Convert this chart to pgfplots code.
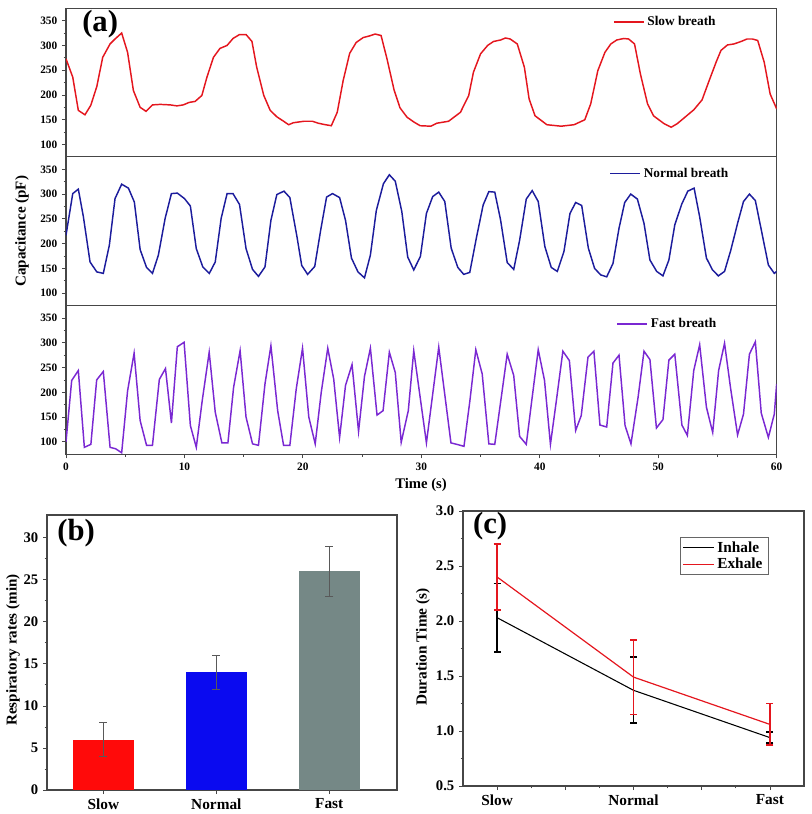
\documentclass[border=0pt]{standalone}
\usepackage{pgfplots}
\pgfplotsset{compat=1.18}
\usepackage{fontspec}
\setmainfont{Liberation Serif}
\definecolor{cslow}{RGB}{228,22,30}
\definecolor{cnorm}{RGB}{28,28,156}
\definecolor{cfast}{RGB}{122,40,210}
\definecolor{bslow}{RGB}{255,10,10}
\definecolor{bnorm}{RGB}{10,10,240}
\definecolor{bfast}{RGB}{117,136,134}
\definecolor{frame}{RGB}{70,70,70}

\pgfplotstableread{
x y
0 273
0.57 236
1.04 169
1.6 160
2.09 179
2.6 217
3.1 276
3.72 303
4.14 313
4.7 325
5.2 286
5.69 209
6.26 175
6.76 167
7.3 180
7.95 181
8.8 180
9.36 178
9.9 180
10.4 185
10.9 187
11.47 199
11.9 236
12.45 276
13.0 294
13.6 300
14.1 314
14.65 322
15.2 322
15.7 308
16.1 256
16.7 199
17.24 169
17.8 156
18.37 147
18.8 140
19.2 144
20.1 147
20.8 147
21.3 143
21.9 140
22.4 138
22.9 165
23.4 229
23.95 284
24.5 306
25.1 316
25.6 319
26.1 323
26.6 320
27.1 273
27.7 210
28.2 174
28.8 155
29.4 145
29.9 138
30.8 137
31.3 143
32.3 147
33.3 165
34.0 199
34.4 246
35.0 283
35.6 300
36.1 308
36.7 311
37.1 315
37.5 313
38.1 303
38.7 256
39.1 192
39.6 158
40.6 140
41.8 137
42.9 140
43.8 150
44.3 182
44.9 249
45.5 286
46.0 303
46.5 311
47.1 314
47.5 313
48.0 303
48.5 242
49.1 182
49.6 158
50.5 142
51.1 135
51.6 142
52.2 154
53.0 170
53.7 190
54.3 229
54.9 267
55.3 290
55.85 301
56.4 303
57.0 308
57.5 313
57.95 313
58.4 310
58.95 266
59.45 202
60 172
}\slowdata

\pgfplotstableread{
x y
0 217
0.57 301
1.04 310
1.47 254
2.03 163
2.6 143
3.15 140
3.66 197
4.14 291
4.7 320
5.27 312
5.77 284
6.26 188
6.8 152
7.3 140
7.8 177
8.37 251
8.9 301
9.4 302
10.0 291
10.5 276
11.0 190
11.55 153
12.1 140
12.6 163
13.1 251
13.6 301
14.1 301
14.65 279
15.2 190
15.75 148
16.25 134
16.8 153
17.3 247
17.8 299
18.4 306
18.9 293
19.5 214
19.9 156
20.4 138
21.0 154
21.5 227
22.0 294
22.5 301
23.1 293
23.6 247
24.1 171
24.65 143
25.2 131
25.7 177
26.2 267
26.8 321
27.3 339
27.8 326
28.35 265
28.85 173
29.36 147
29.92 174
30.43 261
30.96 295
31.47 304
31.98 285
32.52 191
33.08 152
33.58 138
34.09 142
34.66 213
35.22 278
35.7 305
36.2 304
36.69 248
37.25 162
37.8 148
38.3 207
38.86 290
39.36 307
39.87 285
40.43 194
40.97 152
41.48 144
42.04 184
42.55 261
43.03 283
43.54 277
44.1 191
44.63 150
45.14 137
45.65 133
46.18 160
46.69 231
47.17 283
47.68 300
48.24 290
48.8 241
49.3 167
49.87 144
50.4 135
50.9 167
51.4 238
51.99 280
52.5 306
53.03 312
53.5 254
54.07 171
54.58 147
55.08 135
55.6 144
56.13 187
56.7 241
57.2 285
57.7 300
58.2 287
58.7 228
59.3 157
59.8 140
60 144
}\normdata

\pgfplotstableread{
x y
0 100
0.48 224
1.04 244
1.55 89
2.1 95
2.59 225
3.15 242
3.72 89
4.2 86
4.7 78
5.2 203
5.75 279
6.26 143
6.8 93
7.3 93
7.88 226
8.4 248
8.9 138
9.4 292
9.97 301
10.5 133
11.0 89
11.5 183
12.09 281
12.6 160
13.16 98
13.67 98
14.15 210
14.7 284
15.2 150
15.75 96
16.25 93
16.8 217
17.3 294
17.87 163
18.37 93
18.9 93
19.44 207
19.97 289
20.5 150
21.04 96
21.55 200
22.1 289
22.6 227
23.1 109
23.6 214
24.15 256
24.7 121
25.2 232
25.7 289
26.26 154
26.77 163
27.3 281
27.8 240
28.3 99
28.9 163
29.36 284
30.43 98
31.47 291
32.5 98
33.0 95
33.6 91
34.1 183
34.6 286
35.14 237
35.7 96
36.2 95
36.75 190
37.25 277
37.8 234
38.3 111
38.86 95
39.36 190
39.87 286
40.4 224
40.9 95
41.4 183
41.95 283
42.5 264
43.03 123
43.5 153
44.07 271
44.57 283
45.08 134
45.65 130
46.18 259
46.69 275
47.2 133
47.7 96
48.3 190
48.8 283
49.3 266
49.85 128
50.4 145
50.9 265
51.4 277
52.0 134
52.46 113
53.0 244
53.5 296
54.07 170
54.6 119
55.1 244
55.6 299
56.1 210
56.7 114
57.2 156
57.7 277
58.2 302
58.7 158
59.3 109
59.8 156
60 217
}\fastdata

\pgfplotsset{
  common/.style={
    scale only axis, anchor=south west,
    tick align=outside, tick pos=left,
    axis line style={frame, line width=0.8pt},
    every tick/.style={frame, line width=0.6pt},
    major tick length=3pt, minor tick length=1.8pt,
    /pgf/number format/assume math mode=true,
  },
  topstyle/.style={
    common,
    width=533pt, height=111.5pt,
    xmin=0, xmax=60, ymin=75, ymax=375,
    ytick={100,150,...,350}, minor y tick num=1,
    ticklabel style={font=\bfseries\fontsize{8.5}{10}\selectfont},
    legend style={draw=none, fill=none, anchor=west, inner sep=0pt, outer sep=0pt,
      font=\bfseries\fontsize{10}{12}\selectfont},
    legend image code/.code={\draw[##1] (0pt,0pt) -- (22.5pt,0pt);},
  },
}

\begin{document}
\begin{tikzpicture}
\path (0,0) rectangle (609pt,610.5pt);

% (a) slow
\begin{axis}[topstyle, at={(49.5pt,492.8pt)}, xtick=\empty,
  legend style={at={(0.770,0.908)}}]
\addplot[cslow, line width=1.1pt] table[x=x,y=y] {\slowdata};
\addlegendentry{Slow breath}
\node[anchor=west, inner sep=0pt, font=\bfseries\fontsize{23}{26}\selectfont] at (rel axis cs:0.0225,0.89) {(a)};
\end{axis}

% normal
\begin{axis}[topstyle, at={(49.5pt,381.3pt)}, xtick=\empty,
  legend style={at={(0.765,0.888)}}]
\addplot[cnorm, line width=1.1pt] table[x=x,y=y] {\normdata};
\addlegendentry{Normal breath}
\end{axis}

% fast
\begin{axis}[topstyle, at={(49.5pt,269.8pt)},
  xtick={0,10,...,60}, minor x tick num=1,
  legend style={at={(0.775,0.875)}}]
\addplot[cfast, line width=1.1pt] table[x=x,y=y] {\fastdata};
\addlegendentry{Fast breath}
\end{axis}

\node[rotate=90, font=\bfseries\fontsize{11.3}{13}\selectfont] at (16.5pt,437pt) {Capacitance (pF)};
\node[font=\bfseries\fontsize{11}{13}\selectfont] at (315.75pt,247pt) {Time (s)};

% (b)
\begin{axis}[common, at={(35.25pt,18pt)}, width=262.5pt, height=206.25pt,
  xmin=0.5, xmax=3.6, ymin=0, ymax=32.7,
  xtick={1,2,3}, xticklabels={Slow,Normal,Fast},
  ytick={0,5,...,30}, minor y tick num=1,
  yticklabel style={font=\bfseries\fontsize{11}{13}\selectfont},
  xticklabel style={font=\bfseries\fontsize{11.5}{13}\selectfont},
  ]
\addplot[ybar, bar width=45.75pt, bar shift=0pt, fill=bslow, draw=none,
  error bars/.cd, y dir=both, y explicit,
  error bar style={black!65, line width=0.5pt},
  error mark options={rotate=90, black!65, mark size=3pt, line width=0.5pt}]
  coordinates {(1,6) +- (0,2)};
\addplot[ybar, bar width=45.75pt, bar shift=0pt, fill=bnorm, draw=none,
  error bars/.cd, y dir=both, y explicit,
  error bar style={black!65, line width=0.5pt},
  error mark options={rotate=90, black!65, mark size=3pt, line width=0.5pt}]
  coordinates {(2,14) +- (0,2)};
\addplot[ybar, bar width=45.75pt, bar shift=0pt, fill=bfast, draw=none,
  error bars/.cd, y dir=both, y explicit,
  error bar style={black!65, line width=0.5pt},
  error mark options={rotate=90, black!65, mark size=3pt, line width=0.5pt}]
  coordinates {(3,26) +- (0,3)};
\node[anchor=west, inner sep=0pt, font=\bfseries\fontsize{23}{26}\selectfont] at (rel axis cs:0.029,0.935) {(b)};
\end{axis}
\node[rotate=90, font=\bfseries\fontsize{11.3}{13}\selectfont] at (9.75pt,123pt) {Respiratory rates (min)};

% (c)
\begin{axis}[common, at={(347.25pt,21pt)}, width=255.75pt, height=206.25pt,
  xmin=0.75, xmax=3.25, ymin=0.5, ymax=3.0,
  xtick={1,1.5,2,2.5,3}, xticklabels={Slow,,Normal,,Fast}, minor x tick num=1,
  ytick={0.5,1,...,3}, minor y tick num=1,
  yticklabel style={font=\bfseries\fontsize{11}{13}\selectfont,
    /pgf/number format/.cd, fixed, fixed zerofill, precision=1},
  xticklabel style={font=\bfseries\fontsize{11.5}{13}\selectfont},
  legend style={at={(0.636,0.905)}, anchor=north west, draw=black!60, fill=white,
    font=\bfseries\fontsize{11.5}{13}\selectfont, inner xsep=2pt, inner ysep=1pt,
    row sep=-1pt},
  legend cell align=left,
  legend image code/.code={\draw[#1] (0pt,0pt) -- (23pt,0pt);},
  ]
\addplot[black, line width=0.8pt,
  error bars/.cd, y dir=both, y explicit,
  error bar style={black, line width=1.3pt},
  error mark options={rotate=90, black, mark size=2.6pt, line width=1.3pt}]
  coordinates {(1,2.03) +- (0,0.31) (2,1.37) +- (0,0.30) (3,0.94) +- (0,0.05)};
\addlegendentry{Inhale}
\addplot[cslow, line width=0.9pt,
  error bars/.cd, y dir=both, y explicit,
  error bar style={cslow, line width=1.3pt},
  error mark options={rotate=90, cslow, mark size=2.6pt, line width=1.3pt}]
  coordinates {(1,2.40) +- (0,0.30) (2,1.49) +- (0,0.34) (3,1.06) +- (0,0.19)};
\addlegendentry{Exhale}
\node[anchor=west, inner sep=0pt, font=\bfseries\fontsize{23}{26}\selectfont] at (rel axis cs:0.029,0.945) {(c)};
\end{axis}
\node[rotate=90, font=\bfseries\fontsize{11.5}{13}\selectfont] at (317.25pt,125.25pt) {Duration Time (s)};
\end{tikzpicture}
\end{document}
